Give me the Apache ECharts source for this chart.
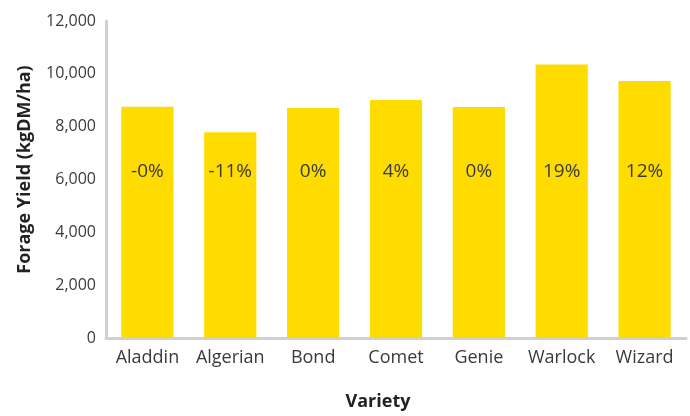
<!DOCTYPE html>
<html>
<head>
<meta charset="utf-8">
<script src="https://cdn.jsdelivr.net/npm/echarts@6/dist/echarts.min.js"></script>
<style>
  html, body { margin: 0; padding: 0; background: #fff; }
</style>
</head>
<body>
<div id="yieldchart" style="width: 690px; height: 416px;"></div>
<script>
  // varieties on the x axis
  var varieties = ['Aladdin', 'Algerian', 'Bond', 'Comet', 'Genie', 'Warlock', 'Wizard'];
  // forage yield, kgDM/ha
  var yields = [8750, 7790, 8710, 9010, 8745, 10350, 9730];
  // change relative to the standard, shown inside each bar
  var changes = ['-0%', '-11%', '0%', '4%', '0%', '19%', '12%'];

  var fontName = 'Open Sans';
  var textColor = '#3a3a3a';

  var options = {
    textStyle: { fontFamily: fontName },
    grid: {
      left: 106,
      right: 4,
      top: 21,
      bottom: 78
    },
    xAxis: {
      type: 'category',
      data: varieties,
      name: 'Variety',
      nameLocation: 'middle',
      nameGap: 55,
      nameTextStyle: {
        fontSize: 18, fontWeight: 'bold', color: '#222', fontFamily: fontName,
        padding: [0, 36, 0, 0]   // the title sits a little left of the plot centre
      },
      axisLine: { lineStyle: { color: '#d0d0d0', width: 3 } },
      axisTick: { show: false },
      axisLabel: { interval: 0, fontSize: 18, color: textColor, margin: 11, fontFamily: fontName }
    },
    yAxis: {
      type: 'value',
      min: 0,
      max: 12000,
      interval: 2000,
      name: 'Forage Yield (kgDM/ha)',
      nameLocation: 'middle',
      nameGap: 72,
      nameTextStyle: {
        fontSize: 18, fontWeight: 'bold', color: '#222', fontFamily: fontName,
        padding: [0, 0, 0, 20]   // nudges the title up a bit
      },
      axisLine: { show: true, lineStyle: { color: '#d0d0d0', width: 3 } },
      axisTick: { show: false },
      splitLine: { show: false },
      axisLabel: {
        fontSize: 16,
        color: textColor,
        margin: 10,
        padding: [0, 0, 6, 0],
        fontFamily: fontName,
        formatter: function (v) { return v.toLocaleString('en-US'); }
      }
    },
    series: [{
      type: 'bar',
      data: yields,
      barCategoryGap: '37%',
      itemStyle: { color: '#FFDC00' },
      label: {
        show: true,
        position: 'insideBottom',
        distance: 157,
        fontSize: 19,
        color: textColor,
        fontFamily: fontName,
        formatter: function (p) { return changes[p.dataIndex]; }
      }
    }]
  };

  var mychart = echarts.init(document.getElementById('yieldchart'));
  mychart.setOption(options);
</script>
</body>
</html>
